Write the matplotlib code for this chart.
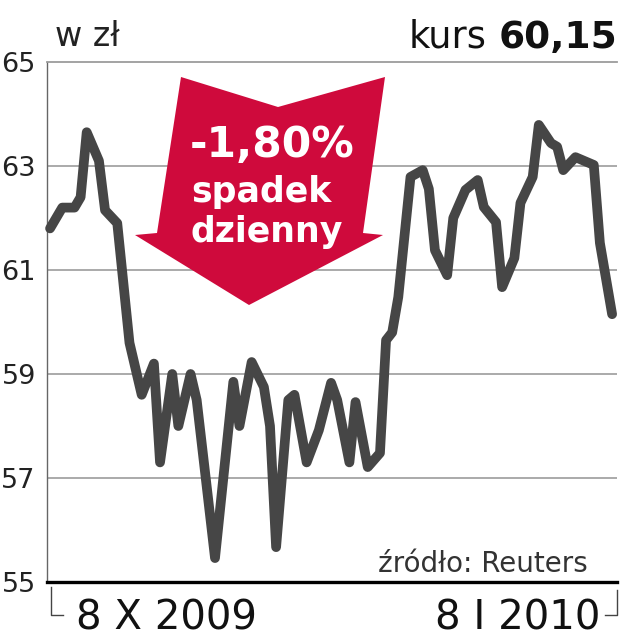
"""Kurs akcji, 8 X 2009 - 8 I 2010 (w zł), z czerwoną strzałką spadku dziennego."""

import matplotlib
matplotlib.use("Agg")
import matplotlib.pyplot as plt  # noqa: E402
from matplotlib.patches import Polygon  # noqa: E402
from matplotlib.lines import Line2D  # noqa: E402

W, H = 624, 640

LINE = "#464646"
GRID = "#9c9c9c"
RED = "#CF0A3C"
TXT = "#222222"

# calendar days since 8 X 2009 and closing price (zł)
days = [0, 2, 4, 5, 6, 8, 9, 11, 13, 15, 17, 18, 20, 21, 23, 24, 27, 30, 31, 33,
        35, 36, 37, 39, 40, 42, 44, 46, 47, 49, 50, 52, 54, 55, 56, 57, 59, 61, 62,
        63, 65, 66, 68, 70, 71, 73, 74, 76, 77, 79, 80, 82, 83, 84, 86, 87, 89, 90, 92]
price = [61.8, 62.2, 62.2, 62.4, 63.65, 63.1, 62.15, 61.9, 59.6, 58.6, 59.2, 57.3,
         59.0, 58.0, 59.0, 58.5, 55.46, 58.85, 58.0, 59.23, 58.75, 58.0, 55.67, 58.5,
         58.6, 57.3, 57.92, 58.83, 58.5, 57.3, 58.46, 57.21, 57.48, 59.65, 59.8, 60.48,
         62.79, 62.92, 62.56, 61.38, 60.9, 62.0, 62.54, 62.73, 62.21, 61.92, 60.67,
         61.23, 62.29, 62.79, 63.79, 63.44, 63.37, 62.92, 63.17, 63.12, 63.02, 61.52,
         60.15]

y_ticks = [55, 57, 59, 61, 63, 65]
date_labels = ["8 X 2009", "8 I 2010"]
last_close = "60,15"
daily_change = "-1,80%"


def fx(x):
    return x / W


def fy(y):
    return 1 - y / H


fig = plt.figure(figsize=(W / 100, H / 100), dpi=100)
ax = fig.add_axes([fx(47), fy(582), fx(617) - fx(47), fy(62) - fy(582)])

ax.plot(days, price, color=LINE, lw=7, solid_joinstyle="round",
        solid_capstyle="round", zorder=3, clip_on=False)

ax.set_xlim(-0.5, 92.8)
ax.set_ylim(55, 65)
ax.set_yticks(y_ticks)
ax.set_yticklabels([str(t) for t in y_ticks], fontsize=19.5, color=TXT)
ax.tick_params(axis="y", length=0, pad=8)
ax.set_xticks([])
for t in y_ticks[1:-1]:
    ax.axhline(t, color=GRID, lw=1.2, zorder=1)

ax.spines["right"].set_visible(False)
ax.spines["top"].set_color(GRID)
ax.spines["top"].set_linewidth(1.3)
ax.spines["left"].set_color("#666666")
ax.spines["left"].set_linewidth(1.0)
ax.spines["bottom"].set_color("black")
ax.spines["bottom"].set_linewidth(2.4)

# header
fig.text(fx(55), fy(46), "w zł", fontsize=24, color=TXT, va="baseline")
fig.text(fx(617), fy(48), last_close, fontsize=27, fontweight="bold",
         color="#111111", ha="right", va="baseline")
fig.text(fx(486), fy(48), "kurs", fontsize=26.5, color="#111111",
         ha="right", va="baseline")

# red arrow
arrow = [(181, 77), (278, 107), (385, 77), (363, 233), (383, 235), (249, 305),
         (135, 235), (157, 233)]
fig.patches.append(Polygon([(fx(x), fy(y)) for x, y in arrow], closed=True,
                           facecolor=RED, edgecolor="none",
                           transform=fig.transFigure, zorder=2))
fig.text(fx(190), fy(157), daily_change, fontsize=30.5, fontweight="bold",
         color="white", va="baseline", zorder=3)
fig.text(fx(191), fy(202), "spadek", fontsize=25, fontweight="bold",
         color="white", va="baseline", zorder=3)
fig.text(fx(191), fy(242), "dzienny", fontsize=25, fontweight="bold",
         color="white", va="baseline", zorder=3)

# source
fig.text(fx(588), fy(572), "źródło: Reuters", fontsize=20, color="#333333",
         ha="right", va="baseline")

# date labels and brackets
fig.text(fx(76), fy(630), date_labels[0], fontsize=29, color="#111111",
         va="baseline")
fig.text(fx(600), fy(630), date_labels[1], fontsize=29, color="#111111",
         ha="right", va="baseline")
for xs, ys in [((51, 51, 63), (587, 615, 615)), ((605, 617, 617), (615, 615, 590))]:
    fig.lines.append(Line2D([fx(x) for x in xs], [fy(y) for y in ys],
                            color="#444444", lw=1.0, transform=fig.transFigure))

fig.savefig("out.png", dpi=100)
